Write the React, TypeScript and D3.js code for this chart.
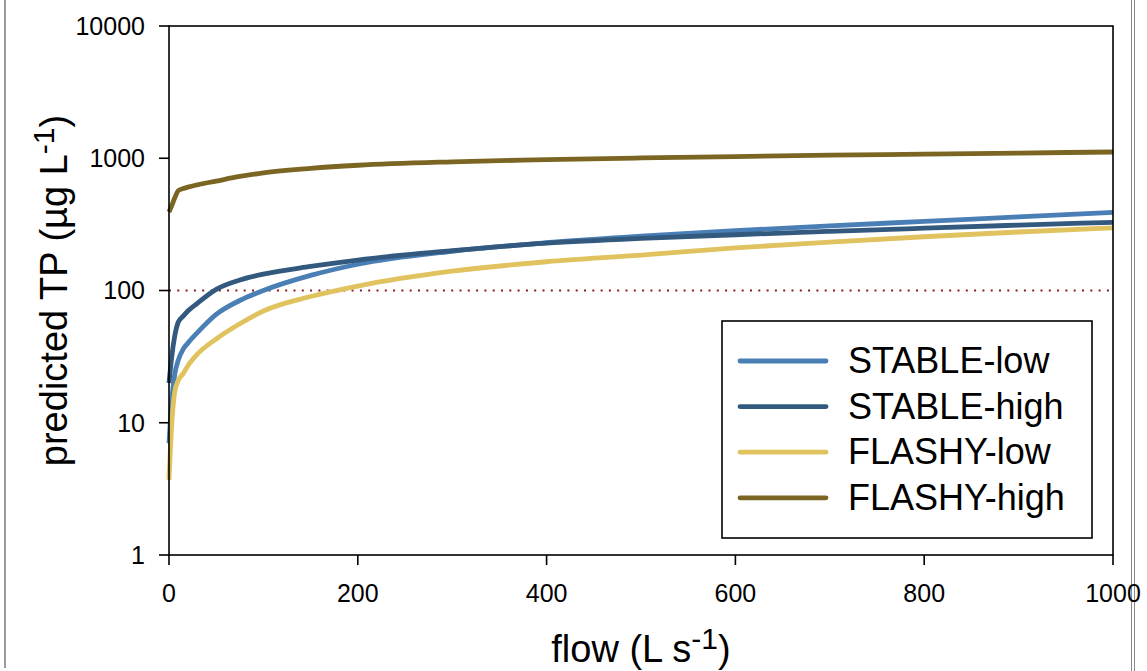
import React from "react";
import * as d3 from "d3";

const flows = [0, 3, 6, 10, 15, 20, 30, 50, 75, 100, 150, 200, 300, 400, 500, 600, 700, 800, 900, 1000];
const stableLow = [7, 15, 23, 30, 36, 40, 48, 66, 84, 100, 130, 158, 198, 230, 258, 283, 308, 333, 360, 390];
const stableHigh = [20, 32, 45, 58, 64, 70, 80, 102, 120, 133, 152, 170, 200, 228, 248, 264, 280, 296, 312, 328];
const flashyLow = [3.7, 10, 17, 21, 23.5, 27, 33, 43, 56, 70, 90, 108, 140, 165, 185, 210, 232, 255, 277, 298];
const flashyHigh = [392, 440, 500, 570, 590, 605, 630, 672, 728, 775, 838, 885, 940, 975, 1005, 1030, 1055, 1075, 1095, 1115];

const seriesNames = ["STABLE-low", "STABLE-high", "FLASHY-low", "FLASHY-high"];
const seriesColors = ["#4a7fb5", "#33597f", "#e0c25e", "#7a6622"];
const seriesValues = [stableLow, stableHigh, flashyLow, flashyHigh];

const xTicks = [0, 200, 400, 600, 800, 1000];
const yTicks = [1, 10, 100, 1000, 10000];
const threshold = 100;

export default function App() {
  const W = 1147, H = 671;
  const left = 169, right = 1113, top = 26, bottom = 555;
  const x = d3.scaleLinear().domain([0, 1000]).range([left, right]);
  const y = d3.scaleLog().domain([1, 10000]).range([bottom, top]);
  const line = d3
    .line<number>()
    .x((_, i) => x(flows[i]))
    .y((d) => y(d))
    .curve(d3.curveMonotoneX);

  const font = "Liberation Sans, Arial, sans-serif";
  const legendX = 722, legendY = 321, legendW = 370, legendH = 217;
  const rowY = (i: number) => 361 + i * 45.6;

  return (
    <svg
      width={W}
      height={H}
      style={{ position: "absolute", left: 0, top: 0, background: "#fff" }}
      fontFamily={font}
    >
      <rect x={0} y={0} width={W} height={H} fill="#fff" />
      {/* page border lines */}
      <line x1={5} x2={5} y1={0} y2={668} stroke="#7a7a7a" strokeWidth={1.5} />
      <line x1={1131.5} x2={1131.5} y1={0} y2={H} stroke="#8a8a8a" strokeWidth={1} />
      <line x1={1134.5} x2={1134.5} y1={0} y2={H} stroke="#8a8a8a" strokeWidth={1} />

      {/* threshold dotted line */}
      <line
        x1={left}
        x2={right}
        y1={y(threshold)}
        y2={y(threshold)}
        stroke="#8b1a1a"
        strokeWidth={2}
        strokeDasharray="2,6.3"
      />

      {/* series */}
      {seriesValues.map((vals, i) => (
        <path
          key={seriesNames[i]}
          d={line(vals) || ""}
          fill="none"
          stroke={seriesColors[i]}
          strokeWidth={4.8}
          strokeLinejoin="round"
        />
      ))}

      {/* frame */}
      <rect x={left} y={top} width={right - left} height={bottom - top} fill="none" stroke="#000" strokeWidth={1.6} />

      {/* y ticks */}
      {yTicks.map((t) => (
        <g key={"y" + t}>
          <line x1={left - 10} x2={left} y1={y(t)} y2={y(t)} stroke="#000" strokeWidth={1.6} />
          <text x={145} y={y(t)} dy="0.35em" textAnchor="end" fontSize={25} fill="#000">
            {t}
          </text>
        </g>
      ))}

      {/* x ticks */}
      {xTicks.map((t) => (
        <g key={"x" + t}>
          <line x1={x(t)} x2={x(t)} y1={bottom} y2={bottom + 10} stroke="#000" strokeWidth={1.6} />
          <text x={x(t)} y={602} textAnchor="middle" fontSize={25} fill="#000">
            {t}
          </text>
        </g>
      ))}

      {/* x title */}
      <text x={(left + right) / 2} y={662} textAnchor="middle" fontSize={38} fill="#000">
        flow (L s
        <tspan fontSize={30} dy={-13}>-1</tspan>
        <tspan dy={13}>)</tspan>
      </text>

      {/* y title */}
      <text
        transform={`translate(67, ${(top + bottom) / 2}) rotate(-90)`}
        textAnchor="middle"
        fontSize={38}
        fill="#000"
      >
        predicted TP (µg L
        <tspan fontSize={30} dy={-13}>-1</tspan>
        <tspan dy={13}>)</tspan>
      </text>

      {/* legend */}
      <rect x={legendX} y={legendY} width={legendW} height={legendH} fill="#fff" stroke="#000" strokeWidth={1.6} />
      {seriesNames.map((n, i) => (
        <g key={"lg" + n}>
          <line
            x1={740}
            x2={826}
            y1={rowY(i)}
            y2={rowY(i)}
            stroke={seriesColors[i]}
            strokeWidth={4.8}
            strokeLinecap="round"
          />
          <text x={848} y={rowY(i) + 12} fontSize={36} fill="#000">
            {n}
          </text>
        </g>
      ))}
    </svg>
  );
}
